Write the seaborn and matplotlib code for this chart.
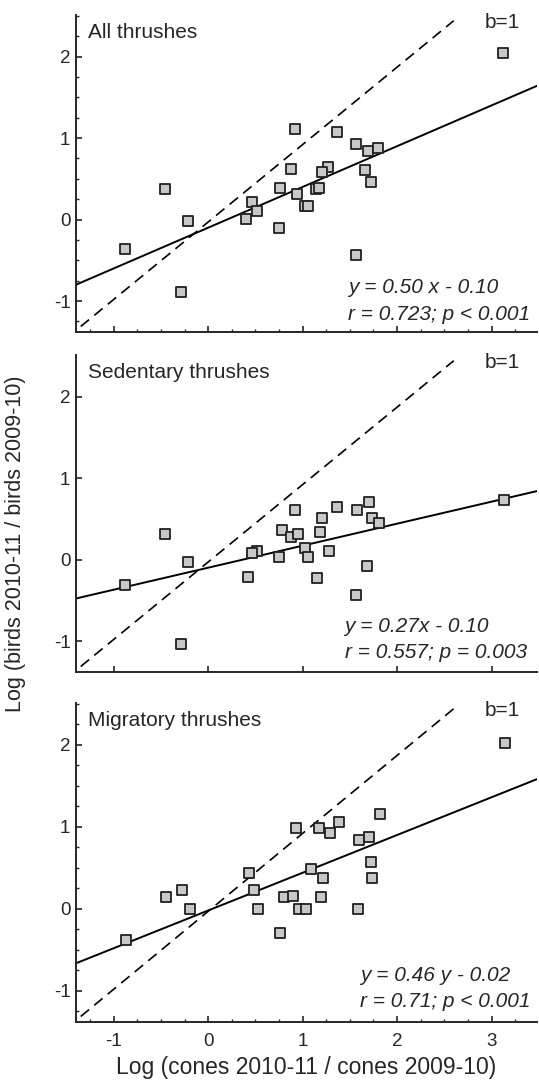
import numpy as np
import pandas as pd
import matplotlib
matplotlib.use("Agg")
import matplotlib.pyplot as plt
import seaborn as sns
from matplotlib.ticker import MultipleLocator

sns.set_style("ticks")
plt.rcParams['font.family'] = ['Liberation Sans', 'DejaVu Sans']
plt.rcParams['axes.unicode_minus'] = False

# ------------------------------
# Data
# ------------------------------
all_x = [3.12, 0.92, 1.36, 1.57, 1.69, 1.80, 1.27, 1.20, 0.88, 1.66, 1.72, -0.46, 0.76,
         1.14, 1.17, 0.94, 0.46, 0.52, 1.02, 1.06, 0.40, -0.21, 0.75, -0.88, 1.56, -0.29]
all_y = [2.04, 1.11, 1.08, 0.93, 0.84, 0.88, 0.65, 0.58, 0.62, 0.61, 0.46, 0.38, 0.39,
         0.38, 0.39, 0.31, 0.22, 0.11, 0.16, 0.16, 0.01, -0.02, -0.10, -0.36, -0.43, -0.89]

sed_x = [3.13, 1.70, 1.36, 1.58, 0.92, 1.73, 1.21, 1.81, 0.78, 1.18, -0.46, 0.88, 0.95,
         0.52, 0.46, 1.02, 1.28, 0.75, 1.06, -0.21, 1.68, 0.42, 1.15, -0.88, 1.57, -0.29]
sed_y = [0.73, 0.70, 0.64, 0.61, 0.61, 0.51, 0.51, 0.45, 0.36, 0.34, 0.31, 0.28, 0.31,
         0.11, 0.08, 0.14, 0.11, 0.03, 0.03, -0.03, -0.08, -0.21, -0.23, -0.31, -0.43, -1.04]

mig_x = [3.14, 1.82, 1.39, 0.93, 1.17, 1.29, 1.60, 1.70, 1.09, 1.72, 0.43, 1.22, 1.73,
         0.49, -0.28, -0.45, 0.80, 0.90, 1.19, -0.19, 0.53, 0.96, 1.04, 1.59, 0.76, -0.87]
mig_y = [2.02, 1.16, 1.06, 0.99, 0.99, 0.93, 0.84, 0.88, 0.48, 0.57, 0.44, 0.38, 0.38,
         0.23, 0.23, 0.14, 0.14, 0.16, 0.14, 0.00, 0.00, 0.00, 0.00, 0.00, -0.29, -0.38]

titles = ['All thrushes', 'Sedentary thrushes', 'Migratory thrushes']
slopes = [0.50, 0.27, 0.46]
intercepts = [-0.10, -0.10, -0.02]
eq_lines = ['y = 0.50 x - 0.10', 'y = 0.27x - 0.10', 'y = 0.46 y - 0.02']
stat_lines = ['r = 0.723; p < 0.001', 'r = 0.557; p = 0.003', 'r = 0.71; p < 0.001']

# b=1 reference line as drawn in the figure
ref_x = [-1.35, 2.60]
ref_slope = 0.95
ref_intercept = -0.03

panels = [(all_x, all_y), (sed_x, sed_y), (mig_x, mig_y)]

# ------------------------------
# Figure
# ------------------------------
fig = plt.figure(figsize=(5.39, 10.87), dpi=100)
boxes = [[0.141, 0.6946, 0.855, 0.2916],
         [0.141, 0.3818, 0.855, 0.2916],
         [0.141, 0.0598, 0.855, 0.2935]]
eq_pos = [(0.59, 0.139, 0.054), (0.583, 0.145, 0.063), (0.616, 0.147, 0.063)]

for i, (xs, ys) in enumerate(panels):
    ax = fig.add_axes(boxes[i])
    df = pd.DataFrame({'x': xs, 'y': ys})

    # b=1 dashed line
    rx = np.array(ref_x)
    ax.plot(rx, ref_slope * rx + ref_intercept, color='black', ls=(0, (6.5, 4)), lw=1.2, zorder=1)
    # regression line
    ax.axline((0, intercepts[i]), slope=slopes[i], color='black', lw=1.4, zorder=2)

    sns.scatterplot(data=df, x='x', y='y', marker='s', s=46, color='#c8c8c8',
                    edgecolor='#202020', linewidth=1.3, ax=ax, zorder=3)

    ax.set_xlim(-1.4, 3.48)
    ax.set_ylim(-1.38, 2.51)
    ax.xaxis.set_major_locator(MultipleLocator(1))
    ax.yaxis.set_major_locator(MultipleLocator(1))
    if i != 1:
        ax.xaxis.set_minor_locator(MultipleLocator(0.25))
        ax.yaxis.set_minor_locator(MultipleLocator(0.25))
    ax.tick_params(which='major', direction='in', length=4, width=1.2, labelsize=13.5)
    ax.tick_params(axis='x', which='major', pad=8)
    ax.tick_params(axis='y', which='major', pad=4)
    ax.tick_params(which='minor', direction='in', length=2.5, width=1.0)
    sns.despine(ax=ax)
    for s in ['left', 'bottom']:
        ax.spines[s].set_linewidth(1.4)
    ax.set_xlabel('')
    ax.set_ylabel('')
    if i < 2:
        ax.set_xticklabels([])

    ax.text(0.026, 0.946, titles[i], transform=ax.transAxes, fontsize=15,
            ha='left', va='center')
    ax.text(2.93, 2.42, 'b=1', fontsize=15, ha='left', va='center')
    ex, ey1, ey2 = eq_pos[i]
    ax.text(ex, ey1, eq_lines[i], transform=ax.transAxes, fontsize=15,
            style='italic', ha='left', va='center')
    ax.text(ex, ey2, stat_lines[i], transform=ax.transAxes, fontsize=15,
            style='italic', ha='left', va='center')

    if i == 2:
        ax.set_xlabel('Log (cones 2010-11 / cones 2009-10)', fontsize=16.5, labelpad=4)

fig.text(0.028, 0.5, 'Log (birds 2010-11 / birds 2009-10)', rotation=90,
         fontsize=15.5, ha='center', va='center')

fig.savefig('out.png', dpi=100)
